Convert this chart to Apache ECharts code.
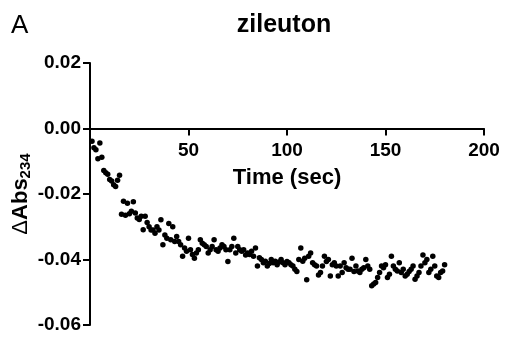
<!DOCTYPE html>
<html><head><meta charset="utf-8">
<script src="https://cdn.jsdelivr.net/npm/echarts@6/dist/echarts.min.js"></script>
<style>html,body{margin:0;padding:0;background:#fff}#c{width:507px;height:341px}</style>
</head><body><div id="c"></div>
<script>
var titleText = "zileuton";
var panelLabel = "A";
var xName = "Time (sec)";
var xTicks = [0, 50, 100, 150, 200];
var yTicks = [-0.06, -0.04, -0.02, 0.00, 0.02];
var times = [1,2,3,4,5,6,7,8,9,10,11,12,13,14,15,16,17,18,19,20,21,22,23,24,25,26,27,28,29,30,31,32,33,34,35,36,37,38,39,40,41,42,43,44,45,46,47,48,49,50,51,52,53,54,55,56,57,58,59,60,61,62,63,64,65,66,67,68,69,70,71,72,73,74,75,76,77,78,79,80,81,82,83,84,85,86,87,88,89,90,91,92,93,94,95,96,97,98,99,100,101,102,103,104,105,106,107,108,109,110,111,112,113,114,115,116,117,118,119,120,121,122,123,124,125,126,127,128,129,130,131,132,133,134,135,136,137,138,139,140,141,142,143,144,145,146,147,148,149,150,151,152,153,154,155,156,157,158,159,160,161,162,163,164,165,166,167,168,169,170,171,172,173,174,175,176,177,178,179,180];
var dAbs = [-0.0039,-0.0059,-0.0065,-0.0092,-0.0044,-0.0088,-0.0128,-0.0135,-0.0140,-0.0156,-0.0160,-0.0172,-0.0177,-0.0158,-0.0143,-0.0262,-0.0222,-0.0265,-0.0228,-0.0260,-0.0253,-0.0224,-0.0258,-0.0273,-0.0278,-0.0268,-0.0309,-0.0268,-0.0287,-0.0300,-0.0310,-0.0310,-0.0320,-0.0300,-0.0310,-0.0279,-0.0355,-0.0325,-0.0335,-0.0290,-0.0340,-0.0300,-0.0345,-0.0330,-0.0345,-0.0355,-0.0390,-0.0365,-0.0375,-0.0335,-0.0370,-0.0385,-0.0396,-0.0380,-0.0370,-0.0340,-0.0350,-0.0355,-0.0360,-0.0380,-0.0370,-0.0360,-0.0340,-0.0370,-0.0375,-0.0365,-0.0355,-0.0360,-0.0370,-0.0406,-0.0370,-0.0360,-0.0335,-0.0380,-0.0360,-0.0370,-0.0375,-0.0370,-0.0386,-0.0380,-0.0385,-0.0375,-0.0390,-0.0365,-0.0420,-0.0395,-0.0400,-0.0410,-0.0405,-0.0420,-0.0412,-0.0400,-0.0410,-0.0405,-0.0416,-0.0408,-0.0400,-0.0410,-0.0416,-0.0406,-0.0410,-0.0416,-0.0420,-0.0430,-0.0437,-0.0400,-0.0365,-0.0405,-0.0396,-0.0462,-0.0390,-0.0380,-0.0410,-0.0416,-0.0420,-0.0447,-0.0440,-0.0420,-0.0390,-0.0406,-0.0400,-0.0450,-0.0416,-0.0410,-0.0420,-0.0450,-0.0420,-0.0440,-0.0410,-0.0425,-0.0430,-0.0430,-0.0396,-0.0437,-0.0420,-0.0435,-0.0440,-0.0430,-0.0425,-0.0400,-0.0420,-0.0430,-0.0480,-0.0475,-0.0470,-0.0455,-0.0440,-0.0420,-0.0425,-0.0416,-0.0455,-0.0445,-0.0390,-0.0420,-0.0430,-0.0435,-0.0410,-0.0440,-0.0430,-0.0450,-0.0445,-0.0437,-0.0430,-0.0420,-0.0460,-0.0450,-0.0440,-0.0420,-0.0386,-0.0410,-0.0400,-0.0440,-0.0430,-0.0390,-0.0420,-0.0450,-0.0455,-0.0440,-0.0435,-0.0416];

var pts = times.map(function(t, i){ return [t, dAbs[i]]; });
var font = "Liberation Sans";
var gridTop = 63, gridBottom = 16, chartH = 341;
// offset that lifts the x axis from the grid bottom to the y = 0 level
var yZeroFrac = (yTicks[yTicks.length-1] - 0) / (yTicks[yTicks.length-1] - yTicks[0]);
var plotH = chartH - gridTop - gridBottom;
var xAxisOffset = -(plotH * (1 - yZeroFrac));
var chart = echarts.init(document.getElementById('c'), null, {renderer:'canvas'});
chart.setOption({
  animation: false,
  backgroundColor: '#fff',
  title: [{
    text: titleText, left: 279, top: 8, textAlign: 'center',
    textStyle: {fontFamily: font, fontWeight: 'bold', fontSize: 25, color: '#000'}
  }, {
    text: panelLabel, left: 6, top: 8,
    textStyle: {fontFamily: font, fontWeight: 'normal', fontSize: 26, color: '#000'}
  }],
  grid: {left: 90, right: 23, top: gridTop, bottom: gridBottom, containLabel: false, outerBoundsMode: 'none'},
  xAxis: {
    type: 'value', min: xTicks[0], max: xTicks[xTicks.length-1], interval: 50,
    position: 'bottom', offset: xAxisOffset,
    name: xName, nameLocation: 'middle', nameGap: 38, nameMoveOverlap: false,
    nameTextStyle: {fontFamily: font, fontWeight: 'bold', fontSize: 22, color: '#000'},
    axisLine: {onZero: false, lineStyle: {color: '#000', width: 2}},
    axisTick: {show: true, length: 7, lineStyle: {color: '#000', width: 2}},
    axisLabel: {showMinLabel: false, margin: 13, fontFamily: font, fontWeight: 'bold', fontSize: 19, color: '#000'},
    splitLine: {show: false}
  },
  yAxis: {
    type: 'value', min: yTicks[0], max: yTicks[yTicks.length-1], interval: 0.02,
    name: '{d|Δ}{a|Abs}{s|234}', nameLocation: 'middle', nameRotate: 90, nameGap: 57, nameMoveOverlap: false,
    nameTextStyle: {
      rich: {
        d: {fontFamily: font, fontSize: 22, color: '#000'},
        a: {fontFamily: font, fontWeight: 'bold', fontSize: 22, color: '#000'},
        s: {fontFamily: font, fontWeight: 'bold', fontSize: 15, color: '#000', verticalAlign: 'bottom', padding: [10,0,0,0]}
      }
    },
    axisLine: {show: true, onZero: false, lineStyle: {color: '#000', width: 2}},
    axisTick: {show: true, length: 7, lineStyle: {color: '#000', width: 2}},
    axisLabel: {margin: 9, fontFamily: font, fontWeight: 'bold', fontSize: 19, color: '#000',
      formatter: function(v){ return v.toFixed(2); }},
    splitLine: {show: false}
  },
  series: [{
    type: 'scatter', data: pts, symbol: 'circle', symbolSize: 5.5,
    itemStyle: {color: '#000', opacity: 1}
  }]
});
</script></body></html>
